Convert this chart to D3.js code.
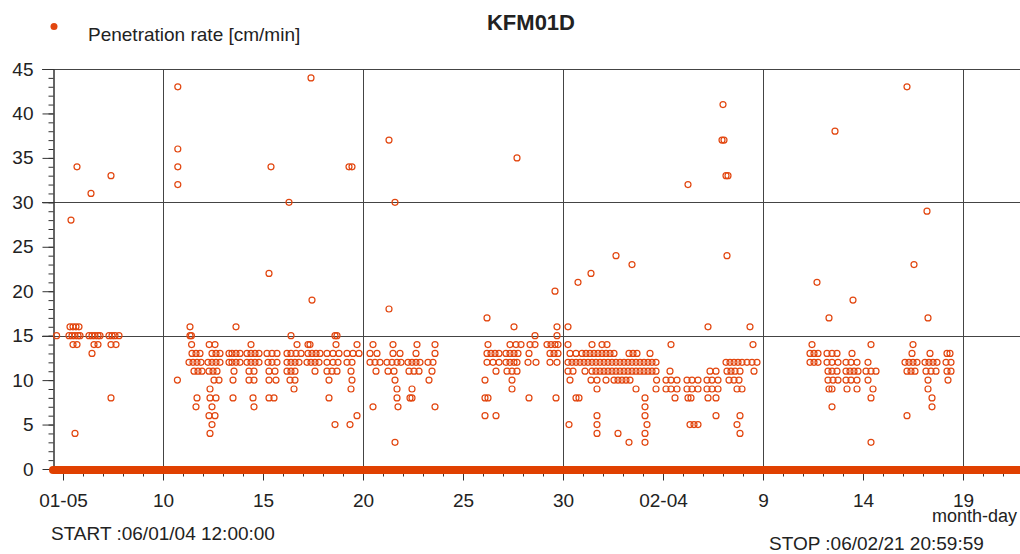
<!DOCTYPE html>
<html>
<head>
<meta charset="utf-8">
<script src="https://cdn.jsdelivr.net/npm/d3@7"></script>
<style>
  body { margin: 0; background: #fff; }
  svg { display: block; }
  text { font-family: "Liberation Sans", Arial, sans-serif; fill: #222; }
</style>
</head>
<body>
<svg id="chart" width="1020" height="554"></svg>
<script>
// ---- labels ----
const titleText = "KFM01D";
const seriesName = "Penetration rate [cm/min]";
const startLabel = "START :06/01/04 12:00:00";
const stopLabel = "STOP :06/02/21 20:59:59";
const xAxisName = "month-day";

// ---- logging period ----
const logStart = "2006-01-04T12:00:00Z";
const logStop = "2006-02-21T20:59:59Z";

// ---- axis ticks ----
const yMajorTicks = [0, 5, 10, 15, 20, 25, 30, 35, 40, 45];
const yGridValues = [15, 30, 45];
const xLabelDates = ["2006-01-05", "2006-01-10", "2006-01-15", "2006-01-20", "2006-01-25",
                     "2006-01-30", "2006-02-04", "2006-02-09", "2006-02-14", "2006-02-19"];
const xLabels = ["01-05", "10", "15", "20", "25", "30", "02-04", "9", "14", "19"];
const xGridDates = ["2006-01-10", "2006-01-20", "2006-01-30", "2006-02-09", "2006-02-19"];

// ---- zero readings recorded continuously over the logging period ----
const zeroSpans = [[logStart, logStop]];

// ---- penetration rate samples: [day of year 2006 (fractional), rate cm/min] ----
const samples = [
  // Jan 4 - 8
  [4.68,15],[5.40,28],[5.70,34],[6.40,31],[7.40,33],
  [5.35,16],[5.50,16],[5.65,16],[5.80,16],
  [5.30,15],[5.45,15],[5.60,15],[5.75,15],[5.85,15],
  [6.30,15],[6.45,15],[6.60,15],[6.75,15],[6.85,15],
  [7.30,15],[7.45,15],[7.60,15],[7.80,15],
  [5.50,14],[5.70,14],[6.55,14],[6.75,14],[7.40,14],[7.65,14],
  [6.45,13],[7.40,8],[5.60,4],
  // Jan 10 - 16
  [10.74,43],[10.74,36],[10.74,34],[10.74,32],[10.72,10],
  [11.35,16],[11.35,15],[11.42,15],[13.65,16],
  [11.43,14],[12.31,14],[12.60,14],[14.40,14],
  [11.45,13],[11.65,13],[11.85,13],[12.45,13],[12.65,13],[12.85,13],[13.30,13],[13.45,13],[13.65,13],[13.85,13],
  [14.20,13],[14.40,13],[14.60,13],[14.80,13],[15.20,13],[15.45,13],[15.70,13],
  [11.30,12],[11.50,12],[11.70,12],[11.90,12],[12.25,12],[12.45,12],[12.65,12],[12.85,12],[13.30,12],[13.45,12],
  [13.65,12],[13.85,12],[14.20,12],[14.40,12],[14.60,12],[14.80,12],[15.25,12],[15.45,12],[15.70,12],
  [11.55,11],[11.75,11],[11.95,11],[12.30,11],[12.50,11],[12.70,11],[13.55,11],[14.30,11],[14.55,11],[15.30,11],[15.60,11],
  [12.55,10],[12.80,10],[13.50,10],[14.30,10],[14.55,10],[15.30,10],[15.65,10],
  [12.35,9],
  [11.70,8],[12.35,8],[12.65,8],[13.50,8],[14.50,8],[15.30,8],[15.55,8],
  [11.65,7],[12.45,7],[14.55,7],
  [12.30,6],[12.60,6],[12.45,5],[12.35,4],
  [15.30,22],[15.40,34],[16.30,30],[17.40,44],[17.45,19],[19.30,34],[19.45,34],[21.30,37],[21.30,18],[21.60,30],
  // Jan 16 - 22
  [16.40,15],[18.60,15],[18.70,15],
  [16.70,14],[17.25,14],[17.35,14],[18.65,14],[19.70,14],[20.50,14],[21.50,14],
  [16.20,13],[16.40,13],[16.65,13],[16.90,13],[17.25,13],[17.45,13],[17.65,13],[17.85,13],[18.20,13],[18.50,13],
  [18.80,13],[19.20,13],[19.50,13],[19.80,13],[20.35,13],[20.70,13],[21.50,13],[21.85,13],
  [16.20,12],[16.40,12],[16.60,12],[16.80,12],[17.20,12],[17.40,12],[17.60,12],[17.80,12],[18.20,12],[18.50,12],
  [18.75,12],[19.20,12],[19.45,12],[20.35,12],[20.60,12],[20.85,12],[21.20,12],[21.45,12],[21.70,12],[21.90,12],
  [16.20,11],[16.40,11],[16.60,11],[17.60,11],[18.20,11],[18.45,11],[18.70,11],[19.40,11],[20.65,11],[21.25,11],[21.55,11],
  [16.35,10],[16.60,10],[18.30,10],[19.45,10],[21.60,10],
  [16.55,9],[19.40,9],[21.70,9],
  [18.30,8],[21.70,8],
  [20.50,7],[21.75,7],
  [19.70,6],[18.60,5],[19.35,5],[21.60,3],
  // Jan 22 - 28
  [22.70,14],[23.60,14],[26.25,14],[27.35,14],[27.65,14],
  [22.65,13],[23.60,13],[26.20,13],[26.40,13],[26.60,13],[26.80,13],[27.15,13],[27.35,13],[27.55,13],[27.75,13],
  [22.25,12],[22.45,12],[22.65,12],[22.85,12],[23.25,12],[23.50,12],[26.20,12],[26.50,12],[26.80,12],
  [27.15,12],[27.35,12],[27.55,12],[27.70,12],
  [22.30,11],[22.55,11],[22.80,11],[23.45,11],[26.65,11],[27.20,11],[27.45,11],[27.70,11],
  [23.30,10],[26.10,10],[27.45,10],
  [22.45,9],[27.45,9],
  [22.35,8],[22.45,8],[26.10,8],[26.25,8],
  [23.60,7],[26.10,6],[26.65,6],
  [26.20,17],[27.55,16],[27.70,35],
  // Jan 28 - Feb 3
  [29.70,16],[30.25,16],
  [28.60,15],[29.70,15],
  [27.90,14],[28.35,14],[28.60,14],[29.20,14],[29.40,14],[29.60,14],[29.75,14],[30.25,14],[31.45,14],[31.95,14],[32.20,14],
  [28.30,13],[29.35,13],[29.55,13],[29.75,13],[30.35,13],[30.65,13],[30.95,13],[31.15,13],[31.35,13],[31.55,13],
  [31.75,13],[31.95,13],[32.15,13],[32.35,13],[32.55,13],[33.30,13],[33.50,13],[33.70,13],
  [28.25,12],[28.65,12],[29.35,12],[29.70,12],
  [30.25,12],[30.45,12],[30.65,12],[30.85,12],[31.05,12],[31.25,12],[31.45,12],[31.65,12],[31.85,12],[32.05,12],
  [32.25,12],[32.45,12],[32.65,12],[32.85,12],[33.05,12],[33.25,12],[33.45,12],[33.65,12],[33.85,12],[34.05,12],
  [34.25,12],[34.45,12],[34.65,12],
  [30.25,11],[30.50,11],[31.10,11],
  [31.45,11],[31.65,11],[31.85,11],[32.05,11],[32.25,11],[32.45,11],[32.65,11],[32.85,11],[33.05,11],[33.25,11],[33.45,11],
  [33.65,11],[33.85,11],[34.05,11],[34.25,11],[34.45,11],[34.65,11],
  [30.35,10],[31.40,10],[31.70,10],[32.15,10],[32.55,10],[32.75,10],[32.95,10],[33.15,10],[33.35,10],[34.68,10],
  [31.70,9],[33.65,9],[34.65,9],
  [28.30,8],[29.65,8],[30.65,8],[30.80,8],[34.10,8],
  [34.10,7],[31.70,6],[34.10,6],[30.30,5],[31.70,5],[34.20,5],[31.70,4],[32.75,4],[34.10,4],[33.30,3],[34.10,3],
  [29.60,20],[30.75,21],[31.40,22],[32.65,24],[33.45,23],
  // Feb 3 - 9
  [34.35,13],[35.40,14],[39.50,14],[37.25,16],[39.35,16],
  [38.15,12],[38.35,12],[38.55,12],[38.75,12],[38.95,12],[39.20,12],[39.45,12],[39.70,12],
  [35.35,11],[37.35,11],[37.65,11],[38.20,11],[38.40,11],[38.60,11],[38.85,11],[39.55,11],
  [35.15,10],[35.40,10],[35.70,10],[36.20,10],[36.45,10],[36.75,10],[37.20,10],[37.45,10],[37.75,10],[38.30,10],[38.55,10],[38.80,10],
  [35.15,9],[35.40,9],[35.70,9],[36.20,9],[36.45,9],[36.75,9],[37.20,9],[37.45,9],[37.75,9],[38.70,9],[38.95,9],
  [35.60,8],[36.25,8],[36.40,8],[37.25,8],[37.65,8],
  [37.65,6],[38.85,6],[36.35,5],[36.55,5],[36.75,5],[38.70,5],[38.85,4],
  [36.25,32],[38.00,41],[37.95,37],[38.05,37],[38.15,33],[38.25,33],[38.20,24],
  // Feb 11 - 15
  [42.70,21],[43.30,17],[43.60,38],[44.50,19],
  [42.45,14],[45.40,14],
  [42.35,13],[42.55,13],[42.75,13],[43.20,13],[43.45,13],[43.70,13],[44.45,13],
  [42.35,12],[42.55,12],[42.75,12],[43.20,12],[43.45,12],[43.75,12],[44.15,12],[44.40,12],[44.70,12],[45.25,12],
  [43.25,11],[43.45,11],[43.70,11],[44.15,11],[44.35,11],[44.55,11],[44.75,11],[45.15,11],[45.40,11],[45.65,11],
  [43.25,10],[43.50,10],[43.75,10],[44.15,10],[44.40,10],[44.70,10],[45.25,10],
  [43.30,9],[43.45,9],[44.20,9],[44.70,9],[45.50,9],
  [45.40,8],[43.45,7],[45.40,3],
  // Feb 16 - 19
  [47.20,43],[47.55,23],[48.20,29],[48.25,17],
  [47.50,14],
  [47.45,13],[48.35,13],[49.20,13],[49.35,13],
  [47.10,12],[47.30,12],[47.50,12],[47.70,12],[48.10,12],[48.30,12],[48.50,12],[48.70,12],[49.15,12],[49.40,12],
  [47.20,11],[47.40,11],[47.60,11],[48.15,11],[48.40,11],[48.65,11],[49.20,11],[49.40,11],
  [48.25,10],[49.25,10],[48.25,9],[48.45,8],[48.45,7],[47.20,6]
];

// ---- drawing ----
const COLOR = "#e2460f";
const FONT = "'Liberation Sans', Arial, sans-serif";
const svg = d3.select("#chart");
const dayToDate = t => new Date(Date.UTC(2006, 0, 1) + (t - 1) * 864e5);

const x = d3.scaleUtc()
  .domain([new Date(logStart), new Date(logStop)])
  .range([53, 1020.5]);
const y = d3.scaleLinear().domain([0, 45]).range([469, 69]);

const plotRight = 1020;

// horizontal grid lines
svg.append("g").selectAll("line").data(yGridValues).join("line")
  .attr("x1", 42).attr("x2", plotRight)
  .attr("y1", d => Math.round(y(d)) + 0.5).attr("y2", d => Math.round(y(d)) + 0.5)
  .attr("stroke", "#444").attr("stroke-width", 1);

// vertical grid lines
svg.append("g").selectAll("line").data(xGridDates).join("line")
  .attr("x1", d => Math.round(x(new Date(d))) + 0.5).attr("x2", d => Math.round(x(new Date(d))) + 0.5)
  .attr("y1", y(45)).attr("y2", y(0) + 11)
  .attr("stroke", "#444").attr("stroke-width", 1);

// y axis: minor ticks every unit, major every 5
const yMinor = svg.append("g").attr("transform", "translate(53.5,0)")
  .call(d3.axisLeft(y).tickValues(d3.range(0, 46)).tickSize(5).tickSizeOuter(0).tickFormat(""));
const yMajor = svg.append("g").attr("transform", "translate(53.5,0)")
  .call(d3.axisLeft(y).tickValues(yMajorTicks).tickSize(11).tickSizeOuter(0).tickPadding(9));
[yMinor, yMajor].forEach(g => {
  g.selectAll("path, line").attr("stroke", "#333");
  g.selectAll("text").attr("font-size", 19).attr("fill", "#222").attr("font-family", FONT);
});

// x axis: minor ticks every day, labelled ticks every 5 days
const xMinor = svg.append("g").attr("transform", "translate(0,469.5)")
  .call(d3.axisBottom(x).ticks(d3.utcDay.every(1)).tickSize(7).tickSizeOuter(0).tickFormat(""));
const xMajor = svg.append("g").attr("transform", "translate(0,469.5)")
  .call(d3.axisBottom(x).tickValues(xLabelDates.map(d => new Date(d)))
    .tickSize(11).tickSizeOuter(0).tickPadding(13)
    .tickFormat((d, i) => xLabels[i]));
[xMinor, xMajor].forEach(g => {
  g.selectAll("path, line").attr("stroke", "#333");
  g.selectAll("text").attr("font-size", 19).attr("fill", "#222").attr("font-family", FONT);
});

// zero readings band
svg.append("g").selectAll("line").data(zeroSpans).join("line")
  .attr("x1", d => x(new Date(d[0]))).attr("x2", d => x(new Date(d[1])))
  .attr("y1", y(0) + 1).attr("y2", y(0) + 1)
  .attr("stroke", "#e04000").attr("stroke-width", 8).attr("stroke-linecap", "round");

// sample markers
svg.append("g").selectAll("circle").data(samples).join("circle")
  .attr("cx", d => x(dayToDate(d[0])))
  .attr("cy", d => y(d[1]))
  .attr("r", 3)
  .attr("fill", "none")
  .attr("stroke", COLOR)
  .attr("stroke-width", 1.2);

// title
svg.append("text").attr("x", 531).attr("y", 30).attr("text-anchor", "middle")
  .attr("font-size", 22).attr("font-weight", "bold").text(titleText);

// legend
svg.append("circle").attr("cx", 54).attr("cy", 26.5).attr("r", 3.5).attr("fill", COLOR);
svg.append("text").attr("x", 88).attr("y", 41).attr("font-size", 19).text(seriesName);

// footer labels
svg.append("text").attr("x", 1017).attr("y", 522).attr("text-anchor", "end")
  .attr("font-size", 18).text(xAxisName);
svg.append("text").attr("x", 51).attr("y", 540).attr("font-size", 19).text(startLabel);
svg.append("text").attr("x", 769).attr("y", 550).attr("font-size", 19).text(stopLabel);
</script>
</body>
</html>
